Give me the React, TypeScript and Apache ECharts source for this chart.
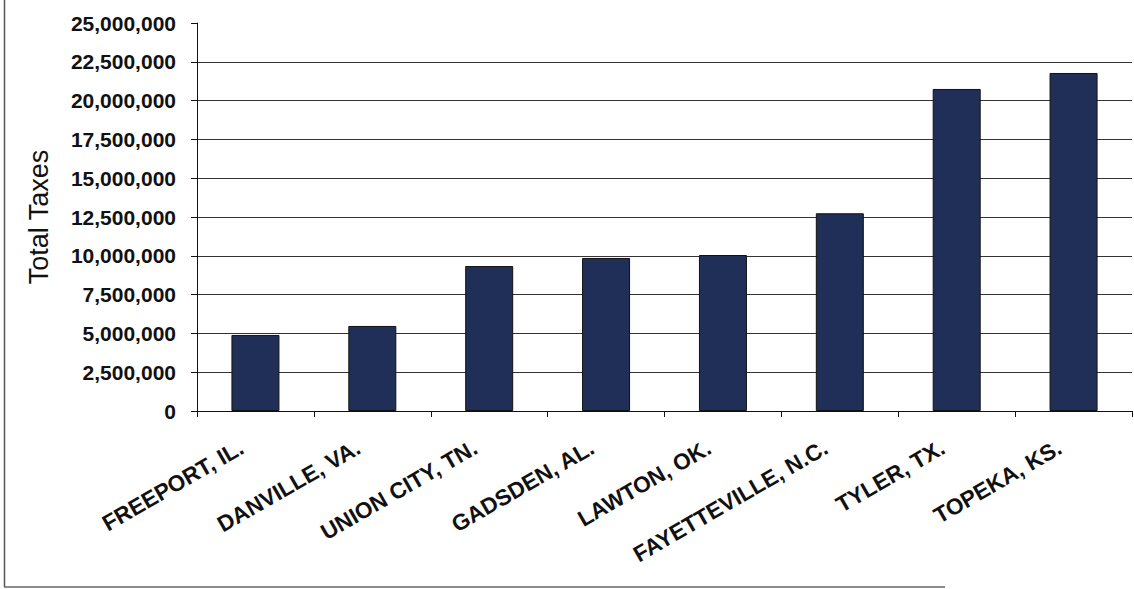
import React, { useEffect, useRef } from "react";
import * as echarts from "echarts";

const categories = [
  "FREEPORT, IL.",
  "DANVILLE, VA.",
  "UNION CITY, TN.",
  "GADSDEN, AL.",
  "LAWTON, OK.",
  "FAYETTEVILLE, N.C.",
  "TYLER, TX.",
  "TOPEKA, KS.",
];
const totalTaxes = [4900000, 5480000, 9340000, 9860000, 10050000, 12740000, 20750000, 21780000];
const yMin = 0;
const yMax = 25000000;
const yInterval = 2500000;
const yTitle = "Total Taxes";

const fmt = (v: number) => v.toLocaleString("en-US");

export default function App() {
  const ref = useRef<HTMLDivElement>(null);
  useEffect(() => {
    document.body.style.margin = "0";
    const chart = echarts.init(ref.current!, undefined, { renderer: "svg" });
    const font = "'Liberation Sans', Arial, sans-serif";
    chart.setOption({
      animation: false,
      backgroundColor: "#ffffff",
      grid: { left: 197, right: 2, top: 23, bottom: 178, containLabel: false },
      graphic: [
        { type: "line", shape: { x1: 4.5, y1: 0, x2: 4.5, y2: 587 }, style: { stroke: "#555", lineWidth: 1.5 } },
        { type: "line", shape: { x1: 4, y1: 587, x2: 945, y2: 587 }, style: { stroke: "#666", lineWidth: 1.5 } },
      ],
      xAxis: {
        type: "category",
        data: categories,
        axisLine: { show: true, lineStyle: { color: "#111", width: 1 } },
        axisTick: { show: true, inside: false, length: 6, lineStyle: { color: "#111" } },
        axisLabel: {
          rotate: 30,
          interval: 0,
          margin: 27,
          padding: [0, 16, 0, 0],
          color: "#111",
          fontFamily: font,
          fontWeight: "bold",
          fontSize: 22.5,
        },
        splitLine: { show: false },
      },
      yAxis: {
        type: "value",
        min: yMin,
        max: yMax,
        interval: yInterval,
        name: yTitle,
        nameLocation: "middle",
        nameGap: 145,
        nameTextStyle: { color: "#111", fontFamily: font, fontSize: 27 },
        axisLine: { show: true, lineStyle: { color: "#111", width: 1 } },
        axisTick: { show: true, inside: false, length: 6, lineStyle: { color: "#111" } },
        axisLabel: {
          margin: 21,
          color: "#111",
          fontFamily: font,
          fontWeight: "bold",
          fontSize: 21,
          formatter: (v: number) => fmt(v),
        },
        splitLine: { show: true, showMaxLine: false, lineStyle: { color: "#333", width: 1 } },
      },
      series: [
        {
          type: "bar",
          data: totalTaxes,
          barWidth: 48,
          itemStyle: { color: "#1f2f58", borderColor: "#111", borderWidth: 1 },
        },
      ],
    });
    return () => chart.dispose();
  }, []);
  return <div ref={ref} style={{ width: 1134, height: 589 }} />;
}
